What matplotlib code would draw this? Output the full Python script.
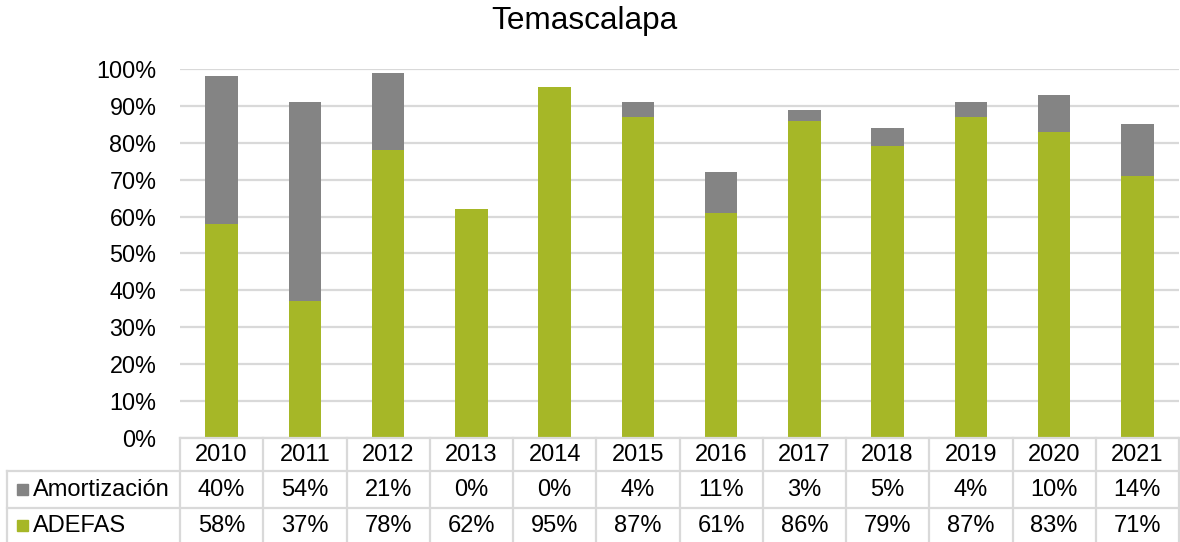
import matplotlib
matplotlib.use("Agg")
import matplotlib.pyplot as plt
from matplotlib.patches import Rectangle
from matplotlib.ticker import FuncFormatter, MultipleLocator

plt.rcParams['font.family'] = ['Liberation Sans', 'DejaVu Sans']

years = ["2010", "2011", "2012", "2013", "2014", "2015", "2016", "2017", "2018", "2019", "2020", "2021"]
adefas = [58, 37, 78, 62, 95, 87, 61, 86, 79, 87, 83, 71]
amortizacion = [40, 54, 21, 0, 0, 4, 11, 3, 5, 4, 10, 14]
series_names = ["Amortización", "ADEFAS"]
title = "Temascalapa"

GREEN = "#A6B727"
GRAY = "#848484"
GRID = "#D9D9D9"
FS = 17

W, H = 1180, 542
fig = plt.figure(figsize=(W / 100, H / 100), dpi=100)

# main plot area (pixel layout)
x0, x1 = 180, 1179
y_top, y_bot = 69, 438
ax = fig.add_axes([x0 / W, (H - y_bot) / H, (x1 - x0) / W, (y_bot - y_top) / H])
n = len(years)
xs = list(range(n))
ax.bar(xs, adefas, width=0.39, color=GREEN, zorder=3)
ax.bar(xs, amortizacion, bottom=adefas, width=0.39, color=GRAY, zorder=3)
ax.set_xlim(-0.5, n - 0.5)
ax.set_ylim(0, 100)
ax.yaxis.set_major_locator(MultipleLocator(10))
ax.yaxis.set_major_formatter(FuncFormatter(lambda v, p: f"{v:.0f}%"))
ax.grid(axis='y', color=GRID, linewidth=1.6, zorder=0)
ax.set_xticks([])
ax.tick_params(axis='y', length=0, pad=17, labelsize=16.8)
for s in ax.spines.values():
    s.set_visible(False)

fig.text(584.5 / W, 1 - 21 / H, title, ha='center', va='center', fontsize=22.7)

# data table
tx0 = 7
tab = fig.add_axes([tx0 / W, 0, (x1 - tx0) / W, (H - y_bot) / H])
col_w = (x1 - x0) / n
left = -0.5 - (x0 - tx0) / col_w
tab.set_xlim(left, n - 0.5)
th = H - y_bot
tab.set_ylim(th, 0)
tab.axis('off')
rows = [0, 32.7, 69.7, th]
lc = GRID
lw = 1.6
# horizontal lines
tab.plot([-0.5, n - 0.5], [rows[0], rows[0]], color=lc, lw=lw, clip_on=False)
for r in rows[1:3]:
    tab.plot([left, n - 0.5], [r, r], color=lc, lw=lw, clip_on=False)
# vertical lines
for i in range(n + 1):
    tab.plot([i - 0.5, i - 0.5], [rows[0], th], color=lc, lw=lw, clip_on=False)
tab.plot([left, left], [rows[1], th], color=lc, lw=lw, clip_on=False)

for i, yr in enumerate(years):
    tab.text(i, (rows[0] + rows[1]) / 2 + 1, yr, ha='center', va='center', fontsize=FS)
    tab.text(i, (rows[1] + rows[2]) / 2 + 1, f"{amortizacion[i]}%", ha='center', va='center', fontsize=FS)
    tab.text(i, (rows[2] + rows[3]) / 2 + 1, f"{adefas[i]}%", ha='center', va='center', fontsize=FS)

px = col_w  # pixels per data unit in x
for (name, color, r0, r1) in [(series_names[0], GRAY, rows[1], rows[2]), (series_names[1], GREEN, rows[2], rows[3])]:
    cy = (r0 + r1) / 2
    sq_x = left + (17 - tx0) / px
    tab.add_patch(Rectangle((sq_x, cy - 5), 11 / px, 11, color=color, clip_on=False))
    tab.text(left + (33 - tx0) / px, cy + 1, name, ha='left', va='center', fontsize=FS)

fig.savefig("out.png", dpi=100)
